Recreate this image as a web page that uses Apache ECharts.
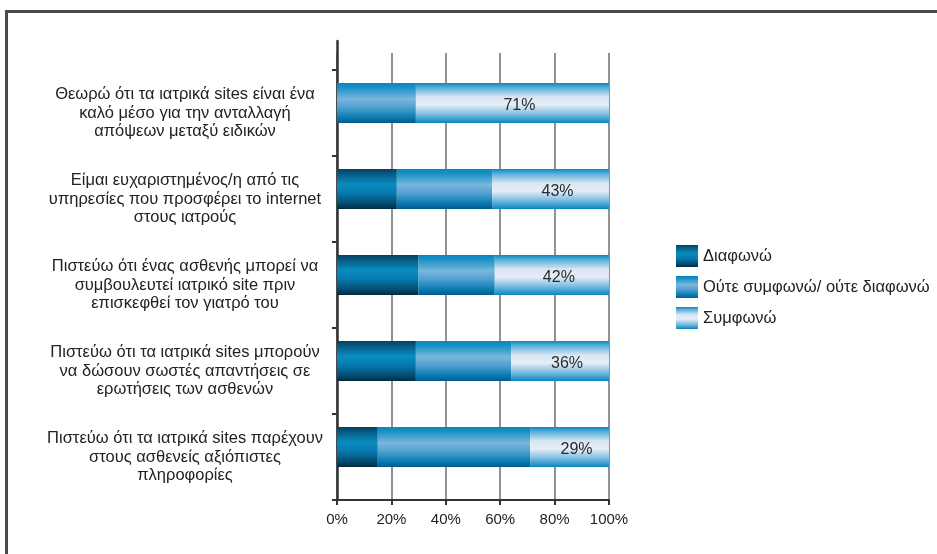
<!DOCTYPE html>
<html>
<head>
<meta charset="utf-8">
<script src="https://cdn.jsdelivr.net/npm/echarts@6/dist/echarts.min.js"></script>
<style>
  html, body { margin: 0; padding: 0; background: #fff; overflow: hidden; }
  #frame {
    position: absolute; left: 5px; top: 10px; width: 960px; height: 580px;
    border: 3px solid #4a4a4a; box-sizing: border-box;
  }
  #chart { position: absolute; left: 0; top: 0; width: 937px; height: 554px; }
</style>
</head>
<body>
<div id="frame"></div>
<div id="chart"></div>
<script>
// statements (top to bottom)
const categories = [
  "Θεωρώ ότι τα ιατρικά sites είναι ένα\nκαλό μέσο για την ανταλλαγή\nαπόψεων μεταξύ ειδικών",
  "Είμαι ευχαριστημένος/η από τις\nυπηρεσίες που προσφέρει το internet\nστους ιατρούς",
  "Πιστεύω ότι ένας ασθενής μπορεί να\nσυμβουλευτεί ιατρικό site πριν\nεπισκεφθεί τον γιατρό του",
  "Πιστεύω ότι τα ιατρικά sites μπορούν\nνα δώσουν σωστές απαντήσεις σε\nερωτήσεις των ασθενών",
  "Πιστεύω ότι τα ιατρικά sites παρέχουν\nστους ασθενείς αξιόπιστες\nπληροφορίες"
];
const seriesNames = ["Διαφωνώ", "Ούτε συμφωνώ/ ούτε διαφωνώ", "Συμφωνώ"];
const disagree = [0, 22, 30, 29, 15];
const neutral = [29, 35, 28, 35, 56];
const agree = [71, 43, 42, 36, 29];
const xTicks = [0, 20, 40, 60, 80, 100];

const FONT = "Liberation Sans, Arial, sans-serif";

function grad(stops) {
  return new echarts.graphic.LinearGradient(0, 0, 0, 1,
    stops.map(s => ({ offset: s[0], color: s[1] })));
}
const darkFill = grad([[0, "#083f5e"], [0.15, "#06608a"], [0.38, "#0a8cc0"], [0.6, "#067ab0"], [0.85, "#044f74"], [1, "#022a42"]]);
const midFill = grad([[0, "#0a84bb"], [0.12, "#1a92c8"], [0.4, "#7ab6dc"], [0.62, "#4e9fd0"], [0.85, "#0a7db4"], [1, "#045c8a"]]);
const lightFill = grad([[0, "#0a88c0"], [0.12, "#5ab0da"], [0.35, "#d8e6f3"], [0.55, "#e6eef7"], [0.78, "#7cbde2"], [1, "#0886bf"]]);

const chart = echarts.init(document.getElementById("chart"));
chart.setOption({
  animation: false,
  textStyle: { fontFamily: FONT },
  legend: {
    orient: "vertical",
    left: 671,
    top: 240,
    itemWidth: 22,
    itemHeight: 22,
    itemGap: 9,
    icon: "rect",
    textStyle: { fontSize: 16.5, color: "#222", fontFamily: FONT },
    data: seriesNames
  },
  grid: [
    // bars
    { left: 337, width: 272, top: 60, height: 430 },
    // vertical grid lines + x axis
    { left: 337, width: 272, top: 53, height: 447 },
    // category labels + y ticks
    { left: 337, width: 272, top: 70, height: 430 },
    // y axis line
    { left: 337, width: 272, top: 41, height: 459 }
  ],
  xAxis: [
    { gridIndex: 0, type: "value", min: 0, max: 100, show: false },
    {
      gridIndex: 1, type: "value", min: 0, max: 100, interval: 20,
      axisLine: { show: true, lineStyle: { color: "#333", width: 2 } },
      axisTick: { show: true, length: 5, lineStyle: { color: "#333", width: 2 } },
      splitLine: { show: true, lineStyle: { color: "#6e6e6e", width: 1.5 } },
      axisLabel: {
        margin: 12, fontSize: 15, color: "#222", fontFamily: FONT,
        formatter: v => (xTicks.indexOf(v) >= 0 ? v + "%" : "")
      }
    },
    { gridIndex: 2, type: "value", min: 0, max: 100, show: false },
    { gridIndex: 3, type: "value", min: 0, max: 100, show: false }
  ],
  yAxis: [
    { gridIndex: 0, type: "category", inverse: true, data: categories, show: false },
    { gridIndex: 1, type: "value", show: false },
    {
      gridIndex: 2, type: "category", inverse: true, data: categories,
      axisLine: { show: false },
      axisTick: { show: true, length: 5, lineStyle: { color: "#333", width: 2 } },
      axisLabel: {
        align: "center", margin: 152, fontSize: 16.5, lineHeight: 18.5,
        color: "#222", fontFamily: FONT, padding: [4, 0, 0, 0]
      }
    },
    {
      gridIndex: 3, type: "value", min: 0, max: 1,
      axisLine: { show: true, lineStyle: { color: "#333", width: 2.5 } },
      axisTick: { show: false }, axisLabel: { show: false }, splitLine: { show: false }
    }
  ],
  series: [
    {
      name: seriesNames[0], type: "bar", stack: "total", xAxisIndex: 0, yAxisIndex: 0,
      barWidth: 40, data: disagree, itemStyle: { color: darkFill }
    },
    {
      name: seriesNames[1], type: "bar", stack: "total", xAxisIndex: 0, yAxisIndex: 0,
      barWidth: 40, data: neutral, itemStyle: { color: midFill }
    },
    {
      name: seriesNames[2], type: "bar", stack: "total", xAxisIndex: 0, yAxisIndex: 0,
      barWidth: 40, data: agree, itemStyle: { color: lightFill },
      label: {
        show: true, position: "inside", formatter: "{c}%", offset: [7, 3],
        fontSize: 16, color: "#2a2a2a", fontFamily: FONT
      }
    }
  ]
});
</script>
</body>
</html>
